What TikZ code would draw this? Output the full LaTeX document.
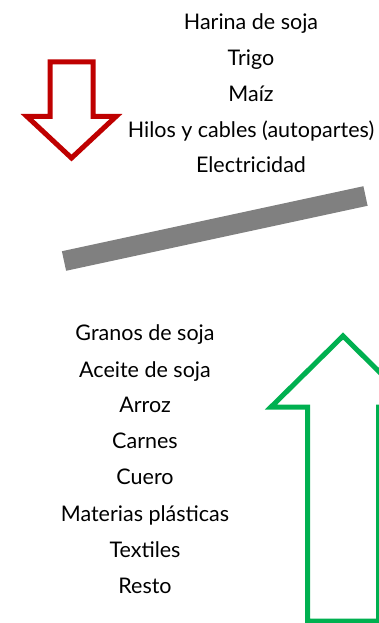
\documentclass[tikz,border=0pt]{standalone}
\usepackage{fontspec}
\setmainfont{Lato}
\begin{document}
\begin{tikzpicture}[x=1pt,y=-1pt,
  lbl/.style={font=\fontsize{21.5}{24}\selectfont, inner sep=0pt, anchor=base},
  redarrow/.style={draw=red!75!black, line width=5pt, fill=white, line join=miter},
  greenarrow/.style={draw={rgb,255:red,0;green,176;blue,80}, line width=5pt, fill=white, line join=miter},
  bar/.style={draw={rgb,255:red,128;green,128;blue,128}, line width=20pt}]
\useasboundingbox (0,0) rectangle (379,623);
\clip (0,0) rectangle (379,623);
% red down arrow
\draw[redarrow] (50,62) -- (93,62) -- (93,116.5) -- (116,116.5) -- (71.5,158) -- (27,116.5) -- (50,116.5) -- cycle;
% green up arrow (clipped)
\draw[greenarrow] (307.5,621) -- (307.5,407) -- (271,407) -- (343,336) -- (415,407) -- (378.5,407) -- (378.5,621) -- cycle;
% gray bar
\coordinate (b1) at (64,261);
\coordinate (b2) at (365.5,196);
\draw[bar] (b1) -- (b2);
% top list
\node[lbl] (t1) at (251,30) {Harina de soja};
\node[lbl] (t2) at (251,66) {Trigo};
\node[lbl] (t3) at (251,102) {Maíz};
\node[lbl] (t4) at (251,137) {Hilos y cables (autopartes)};
\node[lbl] (t5) at (251,172) {Electricidad};
% bottom list
\node[lbl] (l1) at (145,340) {Granos de soja};
\node[lbl] (l2) at (145,377) {Aceite de soja};
\node[lbl] (l3) at (145,412) {Arroz};
\node[lbl] (l4) at (145,448) {Carnes};
\node[lbl] (l5) at (145,484) {Cuero};
\node[lbl] (l6) at (145,521) {Materias plásticas};
\node[lbl] (l7) at (145,557) {Textiles};
\node[lbl] (l8) at (145,593) {Resto};
\end{tikzpicture}
\end{document}
